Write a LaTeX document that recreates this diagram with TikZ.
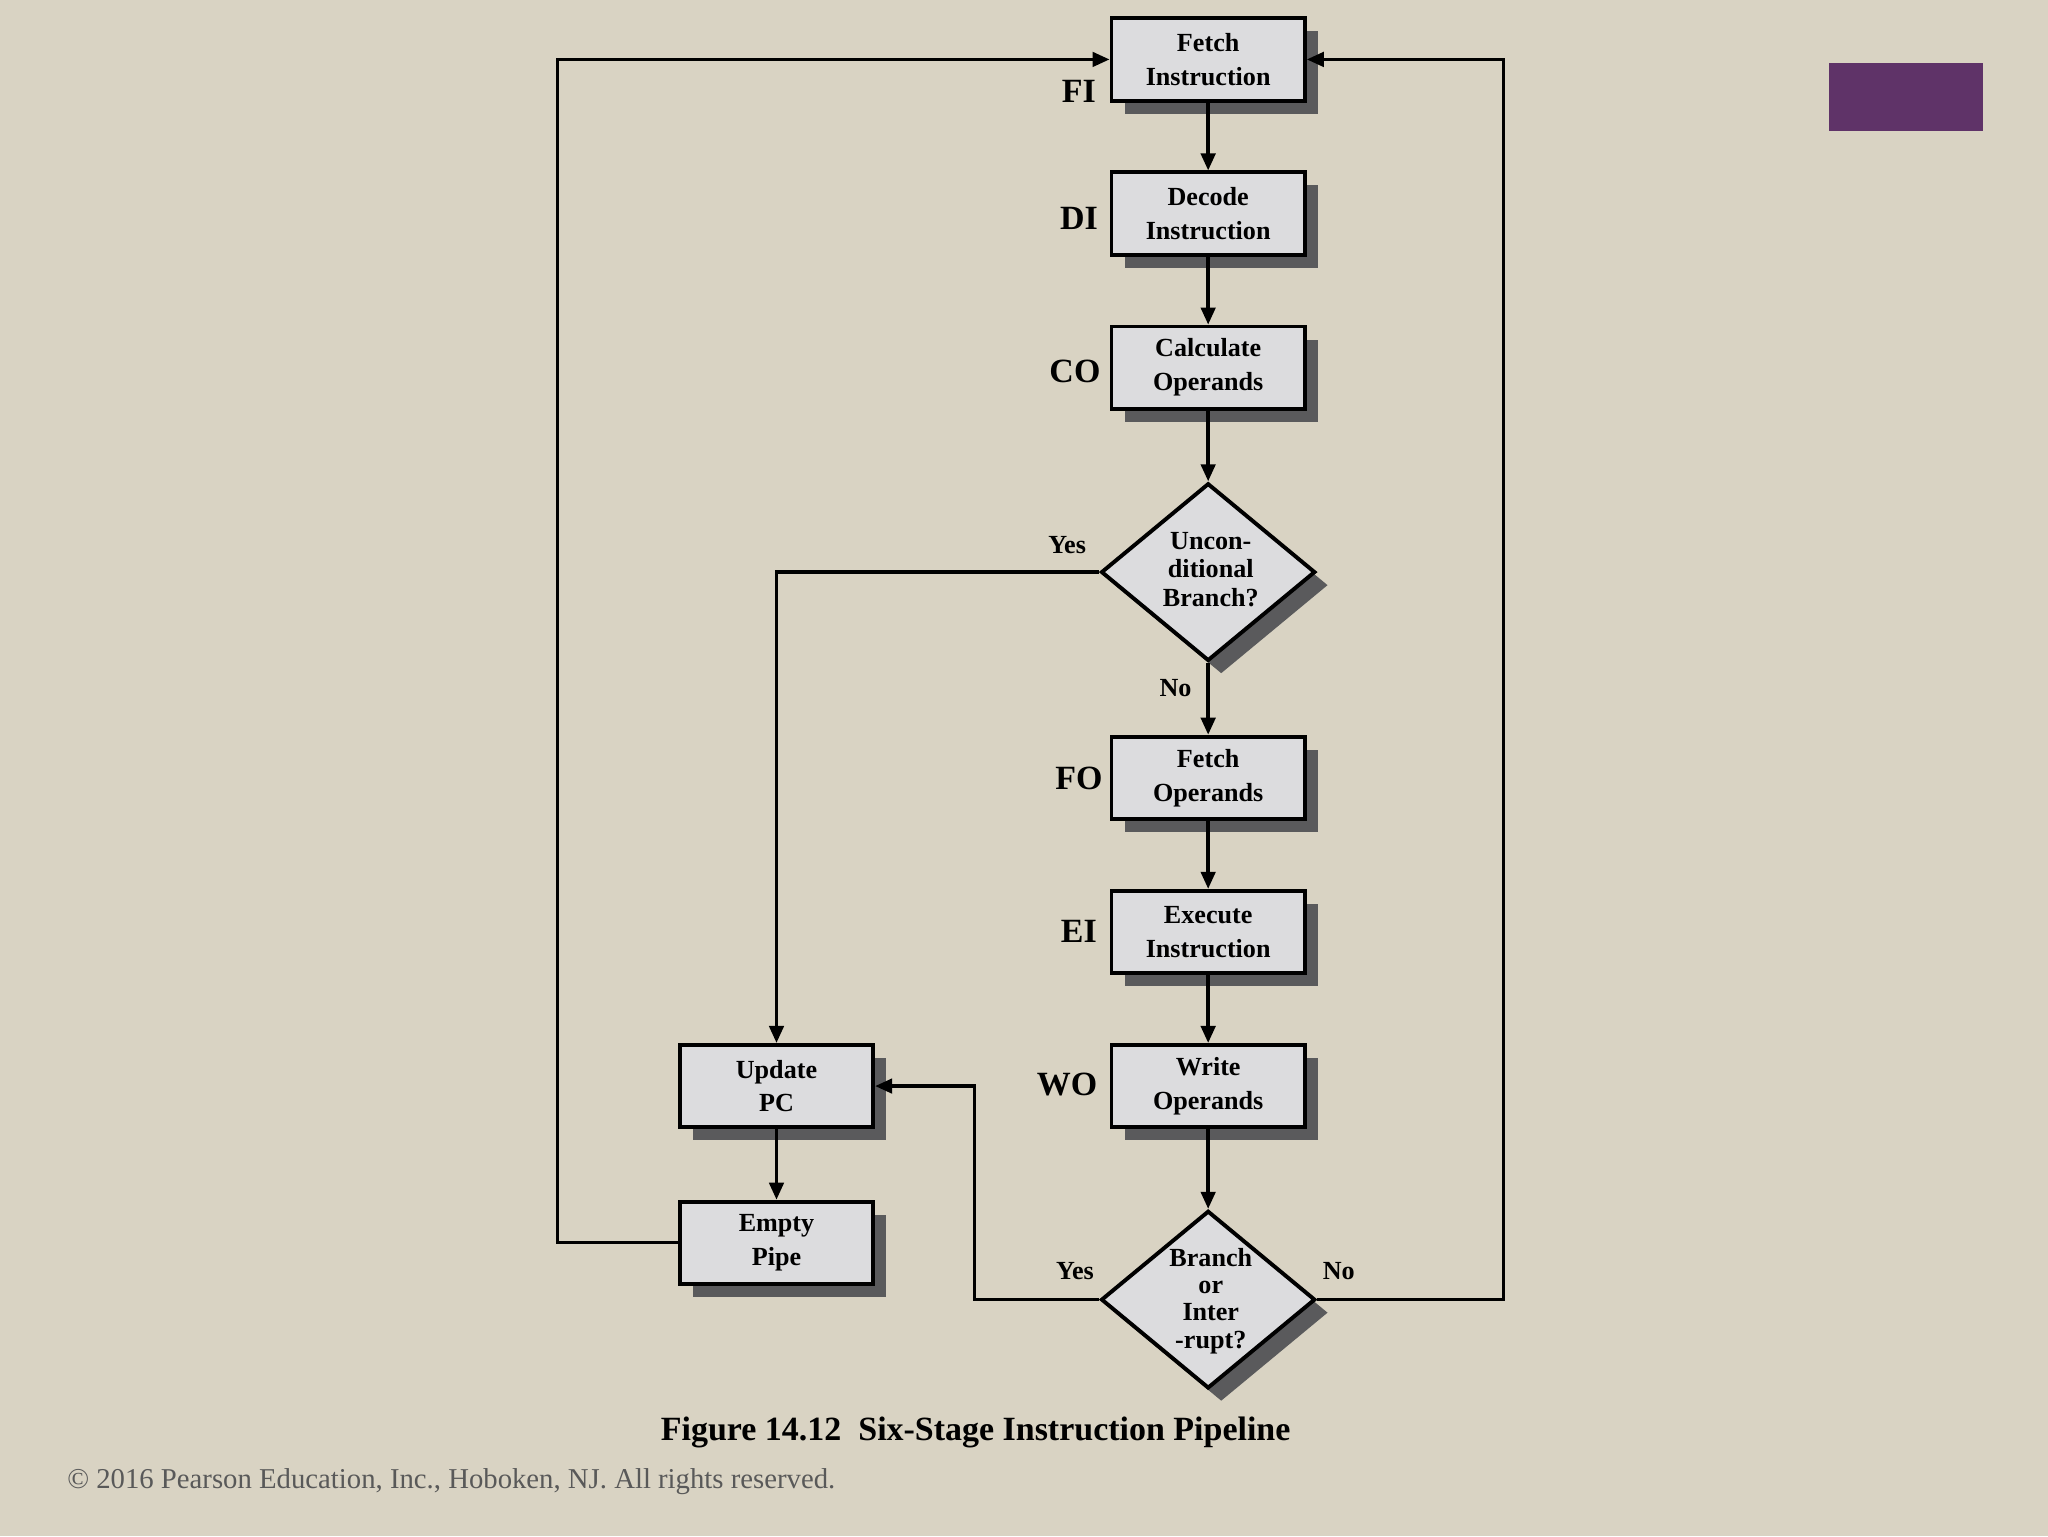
\documentclass[tikz,border=0pt]{standalone}
\usepackage{fontspec}
\setmainfont{Liberation Serif}
\usetikzlibrary{shapes.geometric,shadows,arrows.meta}
\definecolor{bg}{HTML}{D9D3C3}
\definecolor{boxf}{HTML}{DCDCDE}
\definecolor{shad}{HTML}{5A5A5C}
\definecolor{purp}{HTML}{5F3368}
\begin{document}
\begin{tikzpicture}[x=1pt,y=-1pt,
  sh/.style={drop shadow={shadow xshift=10pt,shadow yshift=-10pt,fill=shad,opacity=1}},
  box/.style={draw=black,line width=3pt,fill=boxf,sh,minimum width=148pt,minimum height=63pt,inner sep=0pt,align=center,font=\bfseries\fontsize{20}{26}\selectfont},
  dia/.style={draw=black,line width=3pt,fill=boxf,sh,diamond,minimum width=164pt,minimum height=136pt,inner sep=0pt},
  dtxt/.style={align=center,font=\bfseries\fontsize{20}{22}\selectfont},
  lab/.style={font=\bfseries\fontsize{26}{28}\selectfont},
  yn/.style={font=\bfseries\fontsize{20}{22}\selectfont},
  con/.style={line width=2.6pt,-{Triangle[length=13pt,width=11pt]}}]
\fill[bg] (0,0) rectangle (1568,1176);
\useasboundingbox (0,0) rectangle (1568,1176);
\fill[purp] (1400,48) rectangle (1518,100);
\node[box] (fi) at (925,45.5) {Fetch\\Instruction};
\node[box] (di) at (925,163.5) {Decode\\Instruction};
\node[box] (co) at (925,281.5) {Calculate\\Operands};
\node[dia] (d1) at (925,438) {};
\node[dtxt] at (927,436) {Uncon-\\ditional\\Branch?};
\node[box] (fo) at (925,595.5) {Fetch\\Operands};
\node[box] (ei) at (925,713.5) {Execute\\Instruction};
\node[box] (wo) at (925,831.5) {Write\\Operands};
\node[dia] (d2) at (925,995) {};
\node[dtxt,font=\bfseries\fontsize{20}{21}\selectfont] at (927,996) {Branch\\or\\Inter\\-rupt?};
\node[box] (pc) at (594.5,831.5) {Update\\PC};
\node[box] (ep) at (594.5,951.5) {Empty\\Pipe};
\node[lab] at (826,70) {FI};
\node[lab] at (826,167) {DI};
\node[lab] at (823,284) {CO};
\node[lab] at (826,596) {FO};
\node[lab] at (826,713) {EI};
\node[lab] at (817,830) {WO};
\node[yn] at (817,417) {Yes};
\node[yn] at (900,527) {No};
\node[yn] at (823,973) {Yes};
\node[yn] at (1025,973) {No};
\draw[con] (fi) -- (di);
\draw[con] (di) -- (co);
\draw[con] (co) -- (d1);
\draw[con] (d1) -- (fo);
\draw[con] (fo) -- (ei);
\draw[con] (ei) -- (wo);
\draw[con] (wo) -- (d2);
\draw[con] (pc) -- (ep);
\draw[con] (d1.west) -| (pc.north);
\draw[con] (d2.west) -- (746,995) |- (pc.east);
\draw[con] (d2.east) -- (1151,995) |- (fi.east);
\draw[con] (ep.west) -- (427,951.5) |- (fi.west);
\node[font=\bfseries\fontsize{26}{28}\selectfont] at (747,1097) {Figure 14.12\ \ Six-Stage Instruction Pipeline};
\node[anchor=west,text=gray!70!black,font=\fontsize{22}{24}\selectfont] at (48,1134) {© 2016 Pearson Education, Inc., Hoboken, NJ. All rights reserved.};
\end{tikzpicture}
\end{document}
